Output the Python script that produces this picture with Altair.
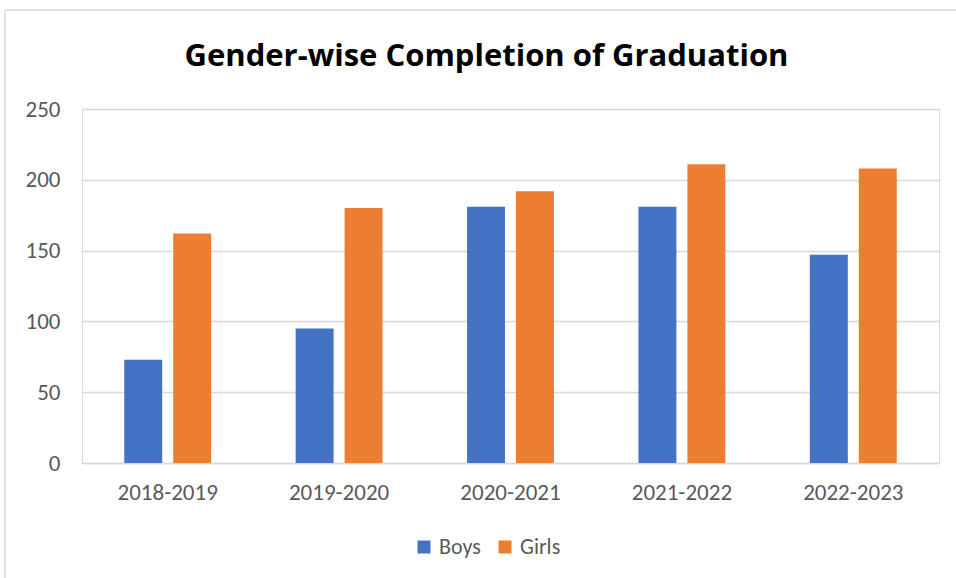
import altair as alt
import pandas as pd

years = ["2018-2019", "2019-2020", "2020-2021", "2021-2022", "2022-2023"]
boys = [73, 95, 181, 181, 147]
girls = [162, 180, 192, 211, 208]
genders = ["Boys", "Girls"]
colors = ["#4472C4", "#ED7D31"]
y_ticks = [0, 50, 100, 150, 200, 250]

rows = []
for i, yr in enumerate(years):
    rows.append({"Year": yr, "Gender": "Boys", "Value": boys[i]})
    rows.append({"Year": yr, "Gender": "Girls", "Value": girls[i]})
df = pd.DataFrame(rows)

FONT = "Carlito, Lato, sans-serif"
TXT = "#595959"

bars = alt.Chart(df).mark_bar().encode(
    x=alt.X("Year:N", sort=years,
            scale=alt.Scale(paddingInner=0.493, paddingOuter=0.2465),
            axis=alt.Axis(title=None, labelAngle=0, ticks=False, domain=True,
                          domainColor="#d9d9d9", domainWidth=1.5,
                          labelFont=FONT, labelFontSize=23, labelColor=TXT,
                          labelPadding=18, grid=False)),
    xOffset=alt.XOffset("Gender:N", sort=genders,
                        scale=alt.Scale(paddingInner=0.2245, paddingOuter=0)),
    y=alt.Y("Value:Q", scale=alt.Scale(domain=[0, 250], nice=False),
            axis=alt.Axis(title=None, values=y_ticks, ticks=False, domain=False,
                          grid=True, gridColor="#d9d9d9", gridWidth=1.5,
                          labelFont=FONT, labelFontSize=23, labelColor=TXT,
                          labelPadding=22)),
    color=alt.Color("Gender:N", sort=genders,
                    scale=alt.Scale(domain=genders, range=colors),
                    legend=alt.Legend(title=None, orient="none", direction="horizontal",
                                      legendX=331, legendY=427,
                                      symbolType="square", symbolSize=169,
                                      symbolStrokeWidth=0, symbolOpacity=1,
                                      labelFont=FONT, labelFontSize=22,
                                      labelColor=TXT, columnPadding=13,
                                      labelOffset=4)),
)

frame_df = pd.DataFrame({"k": [0]})
top_line = alt.Chart(frame_df).mark_rule(color="#d9d9d9", strokeWidth=1.5).encode(
    x=alt.value(-77), x2=alt.value(874), y=alt.value(-99))
left_line = alt.Chart(frame_df).mark_rule(color="#d9d9d9", strokeWidth=1.5).encode(
    x=alt.value(-77), y=alt.value(-99), y2=alt.value(469))

chart = alt.layer(bars, top_line, left_line).properties(
    width=857, height=354,
    title=alt.TitleParams("Gender-wise Completion of Graduation",
                          font="Open Sans, Lato, sans-serif", fontSize=31, fontWeight="bold",
                          color="#000000", anchor="middle", dx=-24, offset=0, dy=88,
                          baseline="alphabetic"),
    autosize=alt.AutoSizeParams(type="none"),
    padding={"left": 82, "top": 109, "right": 17, "bottom": 115},
).configure_view(stroke="transparent", strokeWidth=0).configure(background="white")

chart.save("out.html", embed_options={"renderer": "svg", "actions": False})
